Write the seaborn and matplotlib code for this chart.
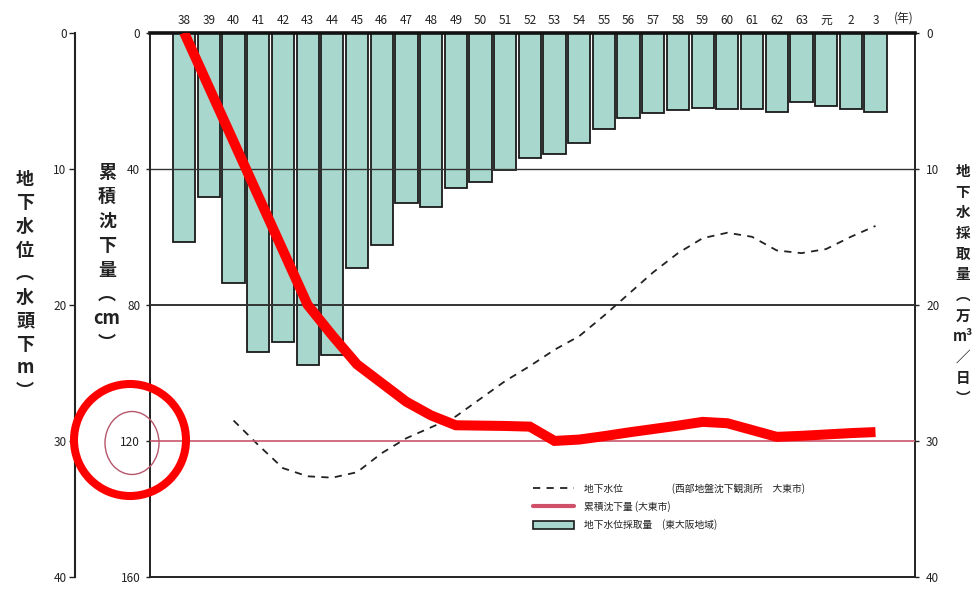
import numpy as np
import pandas as pd
import seaborn as sns
import matplotlib
matplotlib.use("Agg")
import matplotlib.pyplot as plt
from matplotlib.patches import Ellipse, Rectangle
from matplotlib.lines import Line2D
import matplotlib.transforms as mtransforms

# ---------------- data ----------------
years = ["38", "39", "40", "41", "42", "43", "44", "45", "46", "47", "48", "49",
         "50", "51", "52", "53", "54", "55", "56", "57", "58", "59", "60", "61",
         "62", "63", "元", "2", "3"]
# groundwater extraction (万m3/日), right axis
extraction = [15.4, 12.1, 18.4, 23.5, 22.7, 24.4, 23.7, 17.3, 15.6, 12.5, 12.8, 11.4,
              11.0, 10.1, 9.2, 8.9, 8.1, 7.1, 6.3, 5.9, 5.7, 5.5, 5.6, 5.6,
              5.8, 5.1, 5.4, 5.6, 5.8]
# groundwater level (m below), outer left axis, from year 40 to 3
gw_years = years[2:]
gw_level = [28.5, 30.3, 32.0, 32.6, 32.7, 32.3, 30.9, 29.8, 29.0, 28.2, 26.9, 25.6,
            24.5, 23.3, 22.3, 20.8, 19.2, 17.6, 16.2, 15.1, 14.7, 15.0, 16.0, 16.2,
            15.9, 15.0, 14.2]
# cumulative subsidence (cm), inner left axis
subsidence = [0, 16, 32, 48, 64, 80, 89, 97.5, 103, 108.5, 112.5, 115.4,
              115.5, 115.6, 115.8, 120.0, 119.6, 118.6, 117.5, 116.5, 115.5, 114.4,
              114.8, 116.8, 118.8, 118.5, 118.1, 117.7, 117.4]
gw_ticks = [0, 10, 20, 30, 40]
sub_ticks = [0, 40, 80, 120, 160]
ext_ticks = [0, 10, 20, 30, 40]

legend_labels = ["地下水位　　　　　(西部地盤沈下観測所　大東市)",
                 "累積沈下量 (大東市)",
                 "地下水位採取量　(東大阪地域)"]

# ---------------- style ----------------
sns.set_theme(style="white")
plt.rcParams['font.family'] = ['Noto Sans CJK JP', 'DejaVu Sans']
plt.rcParams['axes.unicode_minus'] = False

W, H = 976, 592
fig = plt.figure(figsize=(W / 100, H / 100), dpi=100)
L, R, T, B = 150, 915, 32.7, 577
ax = fig.add_axes([L / W, 1 - B / H, (R - L) / W, (B - T) / H])

bar_color = "#a8d8cd"
df = pd.DataFrame({"year": years, "ext": extraction})
sns.barplot(data=df, x="year", y="ext", order=years, color=bar_color, saturation=1,
            edgecolor="#1a1a1a", linewidth=1.3, width=0.9, ax=ax, zorder=2)
ax.set_xlabel("")
ax.set_ylabel("")

# twins (created before fixing the bar axis ticks, since twinx resets them)
ax3 = ax.twinx()
ax2 = ax.twinx()

ax.set_ylim(40, 0)
ax.set_xlim(-1.385, 29.6)
ax.xaxis.tick_top()
ax.tick_params(axis="x", length=0, pad=4, labelsize=8.5, colors="#222")
ax.yaxis.tick_right()
ax.yaxis.set_label_position("right")
ax.set_yticks(ext_ticks)
ax.tick_params(axis="y", which="both", left=False, labelleft=False, right=True,
               labelright=True, direction="out", length=3, width=1, pad=5,
               labelsize=8.5, colors="#222")
for s in ["left", "right", "bottom"]:
    ax.spines[s].set_linewidth(1.4)
    ax.spines[s].set_color("#222")
ax.spines["top"].set_linewidth(2.6)
ax.spines["top"].set_color("#111")
ax.axhline(10, color="#333", lw=1.0, zorder=3)
ax.axhline(20, color="#333", lw=1.4, zorder=3)

trans = mtransforms.blended_transform_factory(ax.transData, ax.transAxes)
ax.text(29.15, 1 + 14.5 / (B - T), "(年)", transform=trans, ha="center", va="center",
        fontsize=8.5, color="#222")

# ---------------- groundwater level (outer left axis) ----------------
ax3.set_ylim(40, 0)
ax3.yaxis.tick_left()
ax3.set_yticks(gw_ticks)
for s in ["right", "top", "bottom"]:
    ax3.spines[s].set_visible(False)
ax3.spines["left"].set_visible(True)
ax3.spines["left"].set_position(("outward", 54))
ax3.spines["left"].set_linewidth(1.5)
ax3.spines["left"].set_color("#222")
ax3.tick_params(axis="y", direction="out", length=4, width=1, pad=2, labelsize=8.5,
                colors="#222", right=False, labelright=False)
gw_pos = [years.index(y) for y in gw_years]
sns.lineplot(x=gw_pos, y=gw_level, ax=ax3, color="#222", lw=1.3,
             linestyle=(0, (4, 3.5)), sort=False)
ax3.set_ylabel("")
ax3.set_xlim(-1.385, 29.6)

# ---------------- cumulative subsidence (inner left axis) ----------------
ax2.set_ylim(160, 0)
ax2.yaxis.tick_left()
ax2.set_yticks(sub_ticks)
for s in ["right", "top", "bottom", "left"]:
    ax2.spines[s].set_visible(False)
ax2.tick_params(axis="y", direction="out", length=3, width=1, pad=4, labelsize=8.5,
                colors="#222", right=False, labelright=False)
ax2.axhline(120, color="#c8566c", lw=1.2, zorder=1)
sub_pos = list(range(len(years)))
sns.lineplot(x=sub_pos, y=subsidence, ax=ax2, color="#ff0000", lw=7.2, sort=False,
             solid_capstyle="butt", solid_joinstyle="miter")
ax2.set_ylabel("")
ax2.set_xlim(-1.385, 29.6)

# ---------------- vertical axis titles ----------------
def vtext(x, y, chars, size, ls):
    fig.text(x / W, 1 - y / H, "\n".join(chars), ha="center", va="top",
             fontsize=size, linespacing=ls, color="#222", fontweight="bold")

vtext(25, 170, ["地", "下", "水", "位", "︵", "水", "頭", "下", "m", "︶"], 13, 1.3)
vtext(107, 163, ["累", "積", "沈", "下", "量", "︵", "cm", "︶"], 13, 1.36)
vtext(963, 163, ["地", "下", "水", "採", "取", "量", "︵", "万", "m³", "／", "日", "︶"],
      10.5, 1.36)

# ---------------- legend ----------------
handles = [Line2D([], [], color="#222", lw=1.3, linestyle=(0, (4, 3.5))),
           Line2D([], [], color="#d0506a", lw=3),
           Rectangle((0, 0), 1, 1, facecolor=bar_color, edgecolor="#1a1a1a", lw=1.2)]
leg = ax2.legend(handles, legend_labels, loc="upper left",
                 bbox_to_anchor=(533 / W, 1 - 483 / H), bbox_transform=fig.transFigure,
                 frameon=False, fontsize=7, handlelength=4.2, handleheight=1.0,
                 handletextpad=1.0, labelspacing=0.75, borderpad=0, borderaxespad=0)
for t in leg.get_texts():
    t.set_color("#222")

# ---------------- red circle annotations ----------------
ax2.add_patch(Ellipse((132 / W, 1 - 443 / H), 54 / W, 63 / H, transform=fig.transFigure,
                      fill=False, edgecolor="#b5566a", lw=1.0, clip_on=False, zorder=20))
ax2.add_patch(Ellipse((130 / W, 1 - 440 / H), 112 / W, 112 / H, transform=fig.transFigure,
                      fill=False, edgecolor="#ff0000", lw=5.8, clip_on=False, zorder=21))

fig.savefig("out.png", dpi=100)
